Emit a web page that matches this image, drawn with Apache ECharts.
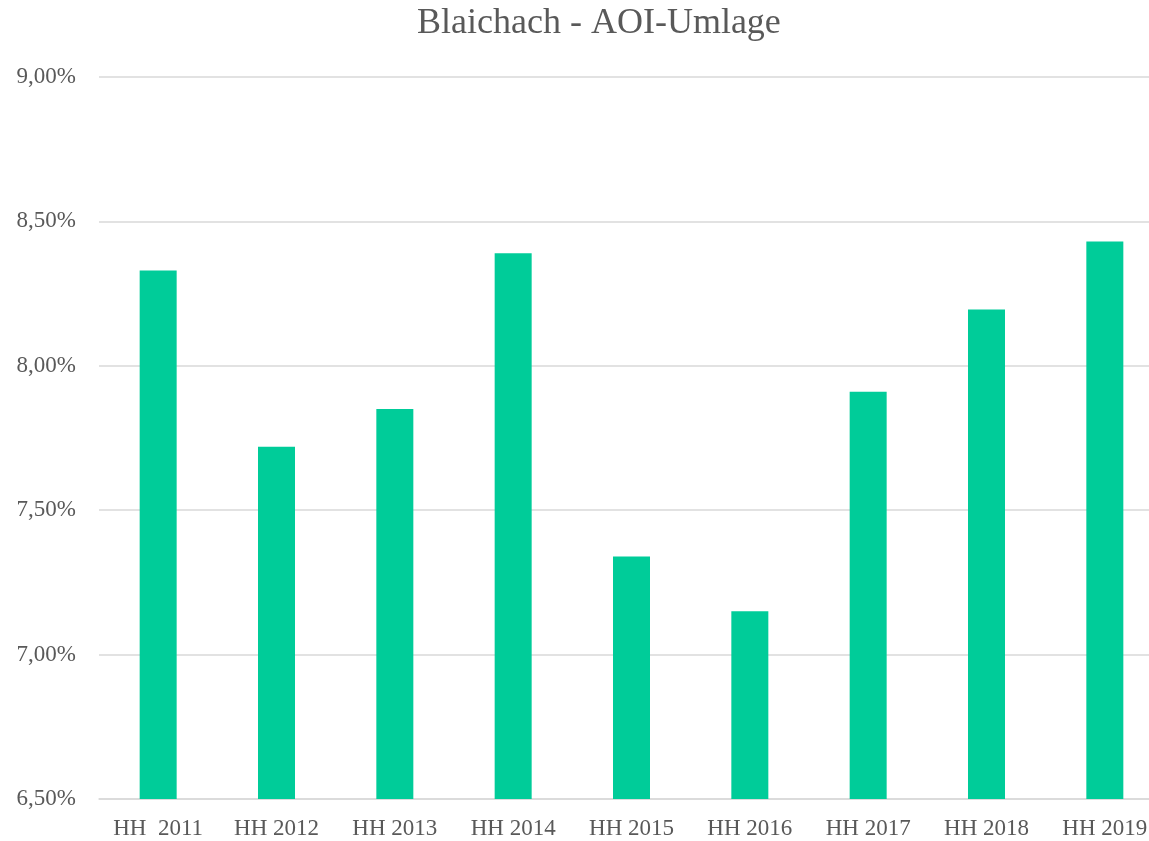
<!DOCTYPE html>
<html>
<head>
<meta charset="utf-8">
<script src="https://cdn.jsdelivr.net/npm/echarts@6/dist/echarts.min.js"></script>
<style>
  html, body { margin: 0; padding: 0; background: #fff; overflow: hidden; }
  #main { width: 1164px; height: 841px; }
</style>
</head>
<body>
<div id="main"></div>
<script>
// Haushaltsjahre
var categories = ['HH  2011', 'HH 2012', 'HH 2013', 'HH 2014', 'HH 2015', 'HH 2016', 'HH 2017', 'HH 2018', 'HH 2019'];
// AOI-Umlage in Prozent
var umlage = [8.33, 7.72, 7.85, 8.39, 7.34, 7.15, 7.91, 8.195, 8.43];
var yTicks = { min: 6.5, max: 9, step: 0.5 };

var chart = echarts.init(document.getElementById('main'));
var textColor = '#595959';
var option = {
  animation: false,
  textStyle: { fontFamily: 'Liberation Serif' },
  title: {
    text: 'Blaichach - AOI-Umlage',
    left: 412,
    top: 1,
    textStyle: { fontFamily: 'Liberation Serif', fontSize: 36, fontWeight: 'normal', color: textColor }
  },
  // plot area runs a bit past the right edge of the window, as in the original
  grid: { left: 99, top: 77, right: 0, bottom: 42, containLabel: false },
  xAxis: {
    type: 'category',
    data: categories,
    axisLine: { lineStyle: { color: '#d9d9d9', width: 1.5 } },
    axisTick: { show: false },
    axisLabel: { color: textColor, fontSize: 23, margin: 18, fontFamily: 'Liberation Serif' }
  },
  yAxis: {
    type: 'value',
    min: yTicks.min,
    max: yTicks.max,
    interval: yTicks.step,
    axisLine: { show: false },
    axisTick: { show: false },
    splitLine: { lineStyle: { color: '#d9d9d9', width: 1.5 } },
    axisLabel: {
      color: textColor, fontSize: 23, margin: 23, fontFamily: 'Liberation Serif',
      padding: [3, 0, 0, 0],
      formatter: function (v) { return v.toFixed(2).replace('.', ',') + '%'; }
    }
  },
  series: [{
    type: 'bar',
    data: umlage,
    barWidth: 37,
    itemStyle: { color: '#00CC99' }
  }]
};
chart.setOption(option);
</script>
</body>
</html>
